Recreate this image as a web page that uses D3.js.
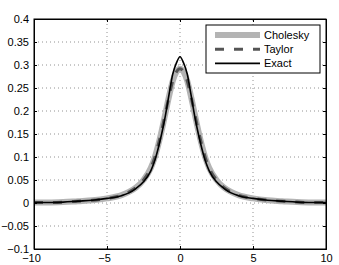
<!DOCTYPE html>
<html>
<head>
<meta charset="utf-8">
<script src="https://cdn.jsdelivr.net/npm/d3@7"></script>
<style>
	body { margin: 0; background: #fff; }
	svg { font-family: "Liberation Sans", Arial, sans-serif; }
</style>
</head>
<body>
<script>
// Sample positions (right half, mirrored to the left)
const xHalf = [0, 0.25, 0.5, 0.75, 1, 1.25, 1.5, 1.75, 2, 2.5, 3, 3.5, 4, 5, 6, 7, 8, 9, 10];
// Curves
const exactHalf = [0.318, 0.304, 0.28, 0.236, 0.19, 0.151, 0.118, 0.09, 0.07, 0.046, 0.032, 0.022, 0.016, 0.01, 0.006, 0.004, 0.002, 0.001, 0.001];
const choleskyHalf = [0.292, 0.285, 0.265, 0.232, 0.195, 0.158, 0.125, 0.097, 0.076, 0.05, 0.034, 0.024, 0.017, 0.01, 0.006, 0.004, 0.002, 0.001, 0.001];
const taylorHalf = [0.292, 0.285, 0.265, 0.232, 0.195, 0.158, 0.125, 0.097, 0.076, 0.05, 0.034, 0.024, 0.017, 0.01, 0.006, 0.004, 0.002, 0.001, 0.001];

const xTicks = [-10, -5, 0, 5, 10];
const yTicks = [-0.1, -0.05, 0, 0.05, 0.1, 0.15, 0.2, 0.25, 0.3, 0.35, 0.4];
const legendLabels = ["Cholesky", "Taylor", "Exact"];

// build full symmetric series
function mirror(vals) {
	const pts = [];
	for (let i = xHalf.length - 1; i > 0; i--) pts.push([-xHalf[i], vals[i]]);
	for (let i = 0; i < xHalf.length; i++) pts.push([xHalf[i], vals[i]]);
	return pts;
}

const width = 339;
const height = 265;
const margin = { left: 34, right: 13, top: 19, bottom: 16 };

const svg = d3.select("body").append("svg").attr("width", width).attr("height", height);

const x = d3.scaleLinear().domain([-10, 10]).range([margin.left, width - margin.right]);
const y = d3.scaleLinear().domain([-0.1, 0.4]).range([height - margin.bottom, margin.top]);

// grid
svg.append("g")
	.selectAll("line")
	.data(xTicks.slice(1, -1))
	.enter()
	.append("line")
	.attr("x1", (d) => x(d))
	.attr("x2", (d) => x(d))
	.attr("y1", y.range()[0])
	.attr("y2", y.range()[1])
	.attr("stroke", "#777")
	.attr("stroke-width", 0.8)
	.attr("stroke-dasharray", "1,3");

svg.append("g")
	.selectAll("line")
	.data(yTicks.slice(1, -1))
	.enter()
	.append("line")
	.attr("x1", x.range()[0])
	.attr("x2", x.range()[1])
	.attr("y1", (d) => y(d))
	.attr("y2", (d) => y(d))
	.attr("stroke", "#777")
	.attr("stroke-width", 0.8)
	.attr("stroke-dasharray", "1,3");

// curves
const line = d3.line().x((d) => x(d[0])).y((d) => y(d[1])).curve(d3.curveMonotoneX);

svg.append("path")
	.datum(mirror(choleskyHalf))
	.attr("d", line)
	.attr("fill", "none")
	.attr("stroke", "#b4b4b4")
	.attr("stroke-width", 6);

svg.append("path")
	.datum(mirror(taylorHalf))
	.attr("d", line)
	.attr("fill", "none")
	.attr("stroke", "#555")
	.attr("stroke-width", 3)
	.attr("stroke-dasharray", "9,10");

svg.append("path")
	.datum(mirror(exactHalf))
	.attr("d", line)
	.attr("fill", "none")
	.attr("stroke", "#000")
	.attr("stroke-width", 1.6);

// axes
const fmt = (d) => d3.format("")(d).replace("-", "\u2212");

svg.append("g")
	.attr("transform", `translate(0, ${y(-0.1)})`)
	.call(d3.axisBottom(x).tickValues(xTicks).tickSize(-3).tickPadding(5).tickFormat(fmt))
	.selectAll(".tick text")
	.attr("dx", (d) => (d < 0 ? -3 : 0));
svg.append("g")
	.attr("transform", `translate(${x(-10)}, 0)`)
	.call(d3.axisLeft(y).tickValues(yTicks).tickSize(-3).tickPadding(5).tickFormat(fmt));
svg.append("g")
	.attr("transform", `translate(0, ${y(0.4)})`)
	.call(d3.axisTop(x).tickValues(xTicks).tickSize(-3).tickFormat(""));
svg.append("g")
	.attr("transform", `translate(${x(10)}, 0)`)
	.call(d3.axisRight(y).tickValues(yTicks).tickSize(-3).tickFormat(""));

svg.selectAll(".domain").attr("stroke", "#000");
svg.selectAll(".tick line").attr("stroke", "#000");
svg.selectAll(".tick text").attr("fill", "#000").style("font-size", "11px");

// box
svg.append("rect")
	.attr("x", x(-10))
	.attr("y", y(0.4))
	.attr("width", x(10) - x(-10))
	.attr("height", y(-0.1) - y(0.4))
	.attr("fill", "none")
	.attr("stroke", "#000")
	.attr("stroke-width", 1);

// legend
const legend = svg.append("g").attr("transform", "translate(206, 25)");
legend.append("rect")
	.attr("width", 114)
	.attr("height", 48)
	.attr("fill", "#fff")
	.attr("stroke", "#000")
	.attr("stroke-width", 1);

const legendStyles = [
	{ stroke: "#b4b4b4", width: 6, dash: null },
	{ stroke: "#555", width: 3, dash: "9,10" },
	{ stroke: "#000", width: 1.6, dash: null },
];

legendLabels.forEach((label, i) => {
	const ly = 10 + i * 14.2;
	legend.append("line")
		.attr("x1", 9)
		.attr("x2", 54)
		.attr("y1", ly)
		.attr("y2", ly)
		.attr("stroke", legendStyles[i].stroke)
		.attr("stroke-width", legendStyles[i].width)
		.attr("stroke-dasharray", legendStyles[i].dash);
	legend.append("text")
		.attr("x", 58)
		.attr("y", ly)
		.attr("dy", "0.35em")
		.style("font-size", "11px")
		.text(label);
});
</script>
</body>
</html>
